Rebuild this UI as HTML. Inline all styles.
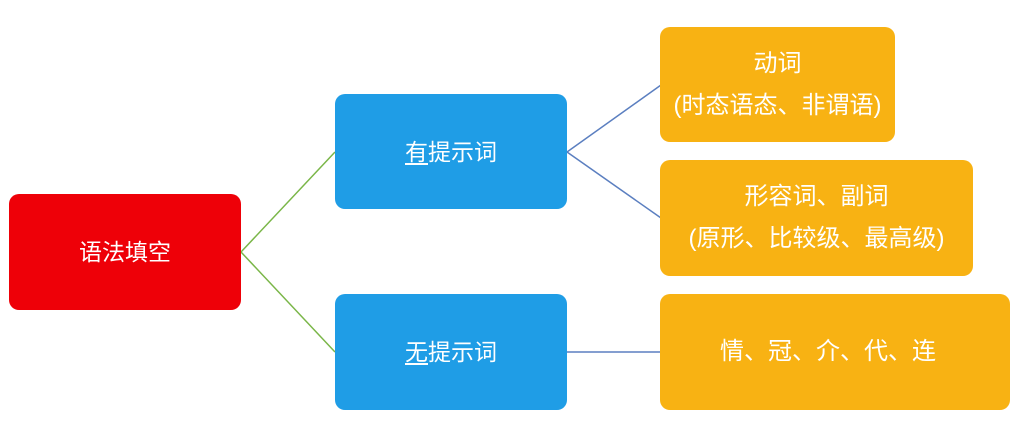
<!DOCTYPE html>
<html><head><meta charset="utf-8"><style>
body{margin:0;width:1024px;height:436px;background:#fff;position:relative;overflow:hidden;font-family:"Liberation Sans","Noto Sans CJK SC",sans-serif;}
.b{position:absolute;border-radius:10px;display:flex;align-items:center;justify-content:center;text-align:center;color:#fff;font-size:23px;line-height:36px;}
.r{background:#ee0008;}
.u{background:#1f9de6;}
.o{background:#f8b213;font-size:24px;line-height:42px;}
u{text-decoration:underline;text-underline-offset:3px;}
</style></head><body>
<svg width="1024" height="436" style="position:absolute;left:0;top:0">
<line x1="241" y1="252" x2="335" y2="152" stroke="#7ab648" stroke-width="1.5"/>
<line x1="241" y1="252" x2="335" y2="352" stroke="#7ab648" stroke-width="1.5"/>
<line x1="567" y1="152" x2="661" y2="85" stroke="#5b7fc0" stroke-width="1.5"/>
<line x1="567" y1="152" x2="661" y2="218" stroke="#5b7fc0" stroke-width="1.5"/>
<line x1="567" y1="352" x2="661" y2="352" stroke="#5b7fc0" stroke-width="1.5"/>
</svg>
<div class="b r" style="left:9px;top:194px;width:232px;height:116px">语法填空</div>
<div class="b u" style="left:335px;top:94px;width:232px;height:115px"><span><u>有</u>提示词</span></div>
<div class="b u" style="left:335px;top:294px;width:232px;height:116px"><span><u>无</u>提示词</span></div>
<div class="b o" style="left:660px;top:27px;width:235px;height:115px">动词<br>(时态语态、非谓语)</div>
<div class="b o" style="left:660px;top:160px;width:313px;height:116px">形容词、副词<br>(原形、比较级、最高级)</div>
<div class="b o" style="left:660px;top:294px;width:350px;height:116px;justify-content:flex-start;padding-left:60px;box-sizing:border-box">情、冠、介、代、连</div>
</body></html>
